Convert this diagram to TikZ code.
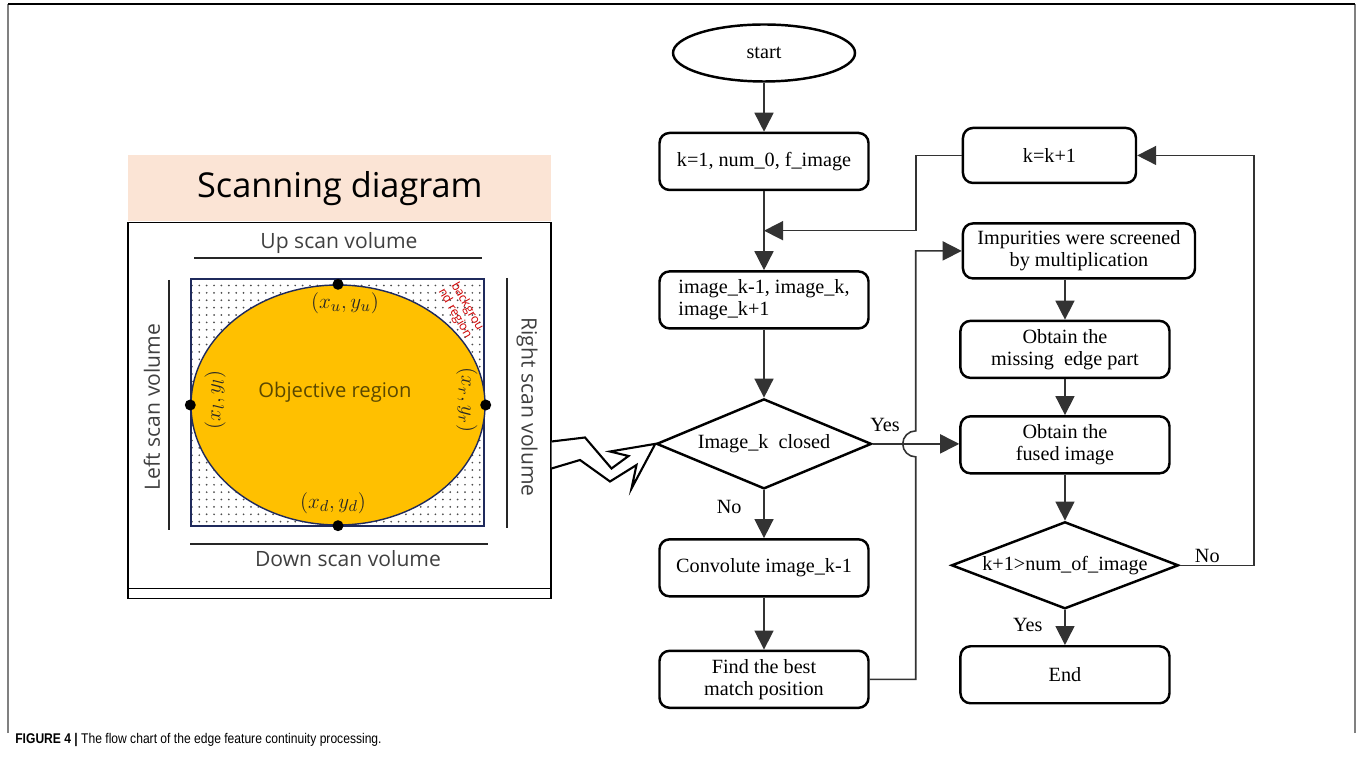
\documentclass[tikz,border=0pt]{standalone}
\usepackage{fontspec}
\setmainfont{Liberation Serif}
\newfontfamily\scanfont{Open Sans}
\newfontfamily\capfont{Liberation Sans}
\usepackage{tikz}
\usetikzlibrary{arrows.meta,calc,positioning,shapes.geometric,patterns.meta}
\definecolor{peach}{HTML}{FBE4D5}
\definecolor{objgold}{HTML}{FFC000}
\definecolor{navyline}{HTML}{1F2A5C}
\definecolor{scangray}{HTML}{404040}
\definecolor{objtext}{HTML}{5A4800}

\begin{document}
\begin{tikzpicture}[
  node distance=1cm and 1.84cm,
  boxstyle/.style={draw, line width=1.4pt, rounded corners=2mm, inner sep=2pt, minimum width=4.18cm, minimum height=1.14cm, align=center, font=\fontsize{11.5}{12.5}\selectfont},
  termstyle/.style={ellipse, draw, line width=1.4pt, inner sep=0, minimum width=3.64cm, minimum height=1.14cm, font=\fontsize{11.5}{12.5}\selectfont},
  decstyle/.style={diamond, draw, line width=1.4pt, inner sep=0, minimum width=4.3cm, minimum height=1.8cm, font=\fontsize{11.5}{12.5}\selectfont},
  namestyle/.style={inner sep=1pt, font=\fontsize{11.5}{12.5}\selectfont},
  pathstyle/.style={-{Triangle[length=3.8mm, width=3.8mm]}, line width=0.9pt, draw=black!80},
  scanstyle/.style={inner sep=0, text=scangray, font=\scanfont\fontsize{12}{14}\selectfont},
  scanline/.style={line width=1.2pt, draw=black!85},
  dotstyle/.style={circle, fill=black, inner sep=0, minimum size=0.22cm},
  coordstyle/.style={inner sep=0, text=black!85, font=\fontsize{12.5}{14}\selectfont}
]
  \useasboundingbox (0,0) rectangle (27.26,-15.6);

  % figure frame and caption
  \draw[line width=1pt, gray] (0.16,-14.66) -- (0.16,-0.08);
  \draw[line width=1pt, gray] (27.1,-14.66) -- (27.1,-0.08);
  \draw[line width=0.8pt] (0.16,-0.08) -- (27.1,-0.08);
  \node[anchor=west, inner sep=0] (caption) at (0.3,-14.8)
    {\capfont\fontsize{8}{10}\selectfont\scalebox{0.86}[1]{\textbf{FIGURE 4 |} The flow chart of the edge feature continuity processing.}};

  % scanning diagram
  \node[fill=peach, anchor=north west, minimum width=8.46cm, minimum height=1.32cm,
    font=\scanfont\fontsize{19.5}{22}\selectfont] (header) at (2.56,-3.10)
    {Scanning diagram};
  \node[draw, line width=1pt, minimum width=8.46cm, minimum height=7.52cm, below=0pt of header] (scanbox)
    {};
  \draw[line width=1pt] ($(scanbox.south west)+(0,0.22)$) -- ($(scanbox.south east)+(0,0.22)$);

  \node[draw=navyline, line width=0.8pt, pattern={Dots[distance=4.2pt, radius=0.55pt]}, pattern color=black!70,
    minimum width=5.86cm, minimum height=4.94cm] (bgregion) at (6.75,-8.05)
    {};
  \node[ellipse, draw=navyline, fill=objgold, line width=0.8pt, inner sep=0,
    minimum width=5.88cm, minimum height=4.8cm] (objective) at (6.76,-8.1)
    {};
  \node[inner sep=0, text=objtext, font=\scanfont\fontsize{11.5}{14}\selectfont] (objname) at (6.7,-7.84)
    {Objective region};

  \node[dotstyle] (pu) at (objective.north) {};
  \node[dotstyle] (pd) at (objective.south) {};
  \node[dotstyle] (pl) at (objective.west) {};
  \node[dotstyle] (pr) at (objective.east) {};

  \node[coordstyle] (lu) at (6.9,-6.06) {$(x_u, y_u)$};
  \node[coordstyle] (ld) at (6.66,-10.06) {$(x_d, y_d)$};
  \node[coordstyle, rotate=90] (ll) at (4.3,-8.0) {$(x_l, y_l)$};
  \node[coordstyle, rotate=-90] (lr) at (9.34,-8.0) {$(x_r, y_r)$};
  \node[inner sep=0, rotate=-60, text=red!80!black, align=center, font=\scanfont\fontsize{7}{8}\selectfont] (bgname) at (9.22,-6.2)
    {backgrou\\nd region};

  \node[scanstyle] (upname) at (6.78,-4.86) {Up scan volume};
  \node[scanstyle] (downname) at (6.96,-11.18) {Down scan volume};
  \node[scanstyle, rotate=90] (leftname) at (3.04,-8.14) {Left scan volume};
  \node[scanstyle, rotate=-90] (rightname) at (10.54,-8.14) {Right scan volume};
  \draw[scanline] (3.88,-5.16) -- (9.64,-5.16);
  \draw[scanline] (3.8,-10.88) -- (9.76,-10.88);
  \draw[scanline] (3.38,-5.6) -- (3.38,-10.6);
  \draw[scanline] (10.14,-5.56) -- (10.14,-10.56);

  % left column
  \node[termstyle] (start) at (15.28,-1.06)
    {start};
  \node[boxstyle, below=0.98cm of start] (init)
    {k=1, num\_0, f\_image};
  \node[boxstyle, align=left, below=1.58cm of init] (load)
    {image\_k-1, image\_k,\\image\_k+1};
  \node[decstyle, below=1.36cm of load] (closed)
    {\makebox[0pt]{Image\_k\ \ closed}};
  \node[boxstyle, below=0.96cm of closed] (conv)
    {Convolute image\_k-1};
  \node[boxstyle, below=1.04cm of conv] (best)
    {Find the best\\match position};

  % right column
  \node[boxstyle, minimum width=3.46cm, minimum height=1.1cm, right=of init, yshift=0.12cm] (kinc)
    {k=k+1};
  \node[boxstyle, minimum width=4.64cm, minimum height=1.1cm, below=0.76cm of kinc, xshift=0.59cm] (screen)
    {Impurities were screened\\by multiplication};
  \node[boxstyle, below=0.8cm of screen, xshift=-0.28cm] (missing)
    {Obtain the\\missing\ \ edge part};
  \node[boxstyle, below=0.72cm of missing] (fused)
    {Obtain the\\fused image};
  \node[decstyle, minimum width=4.54cm, minimum height=1.74cm, below=0.92cm of fused] (last)
    {\makebox[0pt]{k+1>num\_of\_image}};
  \node[boxstyle, below=0.7cm of last] (stop)
    {End};

  \coordinate (merge) at ($(init.south)!0.5!(load.north)$);
  \coordinate (bus) at ($(init.east)!0.5!(kinc.west)$);

  \draw[pathstyle] (start) -- (init);
  \draw[pathstyle] (init) -- (load);
  \draw[pathstyle] (load) -- (closed);
  \draw[pathstyle] (closed) -- node[namestyle, pos=0.35, left=4mm] (noa) {No} (conv);
  \draw[pathstyle] (conv) -- (best);
  \draw[pathstyle] (kinc.west) -- (kinc.west -| bus) |- (merge);
  \draw[pathstyle] (closed.east) -- node[namestyle, pos=0, anchor=south west, xshift=-1mm, yshift=2mm] (yesa) {Yes} (closed.east -| fused.west);
  \draw[pathstyle] (best.east) -- (best.east -| bus) -- ($(bus |- closed.east)+(0,-0.26)$)
    arc[start angle=-90, end angle=-270, radius=0.26] |- (screen.west);
  \draw[pathstyle] (screen.south -| missing.north) -- (missing.north);
  \draw[pathstyle] (missing) -- (fused);
  \draw[pathstyle] (fused) -- (last);
  \draw[pathstyle] (last) -- node[namestyle, pos=0.42, left=4mm] (yesb) {Yes} (stop);
  \draw[pathstyle] (last.east) -- node[namestyle, pos=0.37, above] (nob) {No} ++(1.49,0) |- (kinc.east);

  % link from the scanning diagram
  \draw[line width=1.2pt, fill=white, line join=miter] (11.03,-8.83) -- (11.70,-8.75) -- (12.23,-9.37) -- (12.57,-9.12)
    -- (12.20,-9.03) -- (closed.west) -- (12.63,-9.77) -- (12.73,-9.30) -- (12.20,-9.63)
    -- (11.60,-9.20) -- (11.03,-9.37);
\end{tikzpicture}
\end{document}
